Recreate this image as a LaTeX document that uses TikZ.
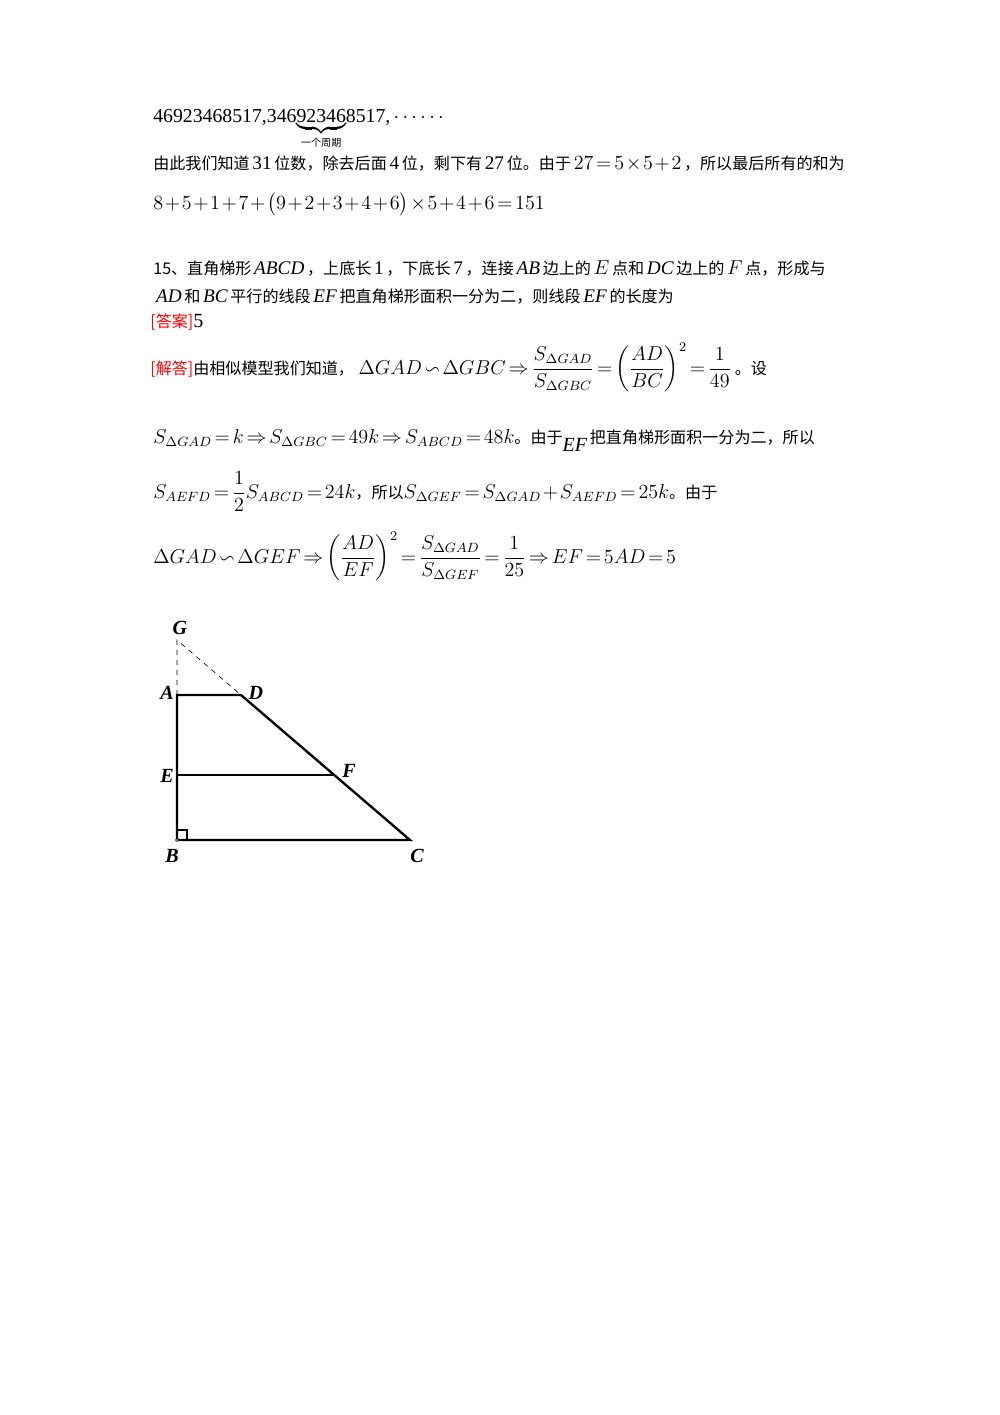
\documentclass[tikz,border=0pt]{standalone}
\usepackage{fontspec,amsmath,amssymb}
\setmainfont{Liberation Serif}
\newfontfamily\cjk{Noto Sans CJK SC}
\usetikzlibrary{positioning,decorations.pathreplacing}
\tikzstyle{txt} = [anchor=base west, inner sep=0, font=\fontsize{9.6}{12}\selectfont]
\tikzstyle{lbl} = [inner sep=0, font=\fontsize{12}{14}\selectfont\bfseries\itshape]
\tikzstyle{edge} = [line width=1.4pt]
\newcommand{\zh}[1]{{\cjk #1}}
\newcommand{\nm}[1]{\,{\fontsize{11.5}{12}\selectfont #1}\,}
\newcommand{\redtag}[1]{\textcolor{red}{\zh{[#1]}}}
\medmuskip=1.5mu plus 1mu
\thickmuskip=2.5mu plus 2mu
\begin{document}
\begin{tikzpicture}[x=0.021cm,y=-0.021cm]
\useasboundingbox (0,0) rectangle (1000,1415);
% text lines
\node[txt] (l1) at (153,122) {\fontsize{11.8}{12}\selectfont 46923468517,346$\underbrace{\text{92346}}_{\text{\fontsize{6}{7}\selectfont\zh{一个周期}}}$8517,\,$\cdots\cdots$};
\node[txt] (l2) at (153,169) {\zh{由此我们知道}\nm{31}\zh{位数，除去后面}\nm{4}\zh{位，剩下有}\nm{27}\zh{位。由于}\nm{$27=5\times5+2$}\zh{，所以最后所有的和为}};
\node[txt] (l3) at (153,209) {\fontsize{11.5}{12}\selectfont $8+5+1+7+\bigl(9+2+3+4+6\bigr)\times5+4+6=151$};
\node[txt] (q1) at (153,274) {\zh{15、直角梯形}\nm{$\mathit{ABCD}$}\zh{，上底长}\nm{1}\zh{，下底长}\nm{7}\zh{，连接}\nm{$\mathit{AB}$}\zh{边上的}\nm{$E$}\zh{点和}\nm{$\mathit{DC}$}\zh{边上的}\nm{$F$}\zh{点，形成与}};
\node[txt] (q2) at (153,302) {\nm{$\mathit{AD}$}\zh{和}\nm{$\mathit{BC}$}\zh{平行的线段}\nm{$\mathit{EF}$}\zh{把直角梯形面积一分为二，则线段}\nm{$\mathit{EF}$}\zh{的长度为}};
\node[txt] (ans) at (150,327) {\redtag{答案}{\fontsize{12}{12}\selectfont 5}};
\node[txt] (s1) at (150,374) {\redtag{解答}\zh{由相似模型我们知道，}\;\fontsize{11.5}{12}\selectfont$\Delta GAD\backsim\Delta GBC\Rightarrow\dfrac{S_{\Delta GAD}}{S_{\Delta GBC}}=\left(\dfrac{AD}{BC}\right)^{2}=\dfrac{1}{49}$\,\fontsize{9.6}{12}\selectfont\zh{。设}};
\node[txt] (s2) at (153,443) {\fontsize{11.5}{12}\selectfont$S_{\Delta GAD}=k\Rightarrow S_{\Delta GBC}=49k\Rightarrow S_{ABCD}=48k$\fontsize{9.6}{12}\selectfont\zh{。由于}\raisebox{-1.2ex}{\fontsize{12}{12}\selectfont$\mathit{EF}$}\,\zh{把直角梯形面积一分为二，所以}};
\node[txt] (s3) at (153,498) {\fontsize{11.5}{12}\selectfont$S_{AEFD}=\dfrac{1}{2}S_{ABCD}=24k$\fontsize{9.6}{12}\selectfont\zh{，所以}\fontsize{11.5}{12}\selectfont$S_{\Delta GEF}=S_{\Delta GAD}+S_{AEFD}=25k$\fontsize{9.6}{12}\selectfont\zh{。由于}};
\node[txt] (s4) at (153,563) {\fontsize{11.5}{12}\selectfont$\Delta GAD\backsim\Delta GEF\Rightarrow\left(\dfrac{AD}{EF}\right)^{2}=\dfrac{S_{\Delta GAD}}{S_{\Delta GEF}}=\dfrac{1}{25}\Rightarrow EF=5AD=5$};
% figure
\coordinate (G) at (177,640);
\coordinate (A) at (177,695);
\coordinate (D) at (241,695);
\coordinate (E) at (177,775);
\coordinate (F) at (334,775);
\coordinate (B) at (177,840);
\coordinate (C) at (410,840);
\draw[dashed,thin] (A) -- (G) -- (D);
\draw[edge,line join=miter] (D) -- (A) -- (B) -- (C) -- cycle;
\draw[edge] (E) -- (F);
\draw[line width=1.2pt] (177,830) -| (187,840);
\fill[white,draw=black,thin] (B) circle (1.5);
\node[lbl] (nG) at (180,628) {G};
\node[lbl] (nA) at (167,693) {A};
\node[lbl] (nD) at (256,693) {D};
\node[lbl] (nE) at (167,776) {E};
\node[lbl] (nF) at (349,771) {F};
\node[lbl] (nB) at (172,856) {B};
\node[lbl] (nC) at (417,856) {C};
\end{tikzpicture}
\end{document}
